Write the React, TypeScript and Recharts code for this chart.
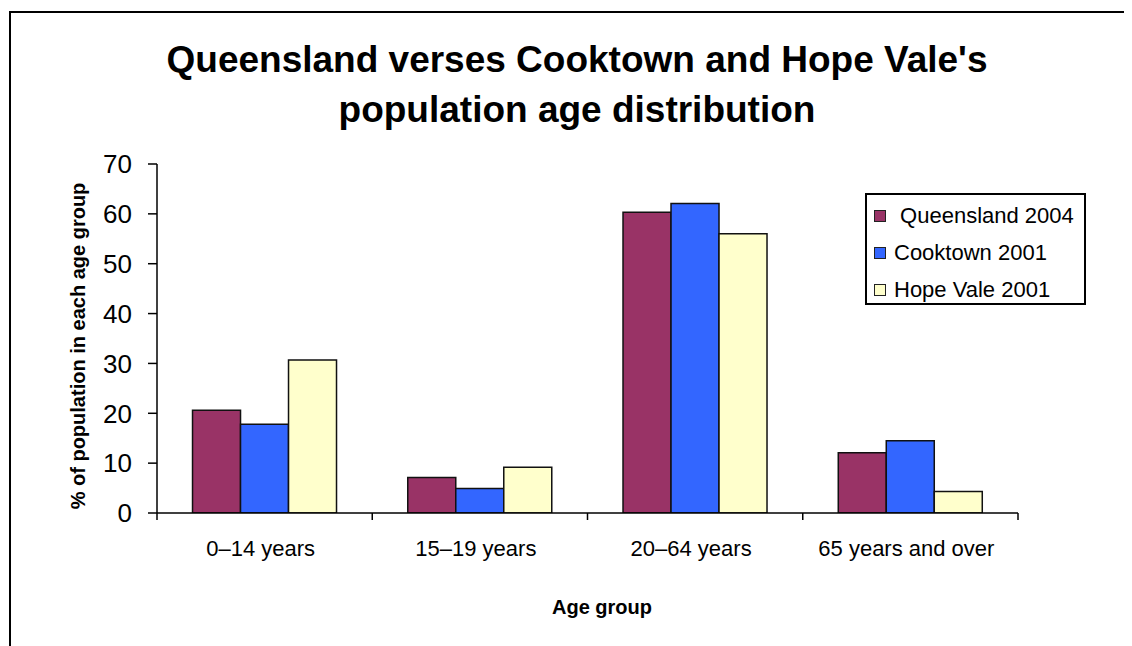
import type { ReactElement } from 'react';
import { Bar, BarChart, Legend, XAxis, YAxis } from 'recharts';

const CATEGORIES = ['0–14 years', '15–19 years', '20–64 years', '65 years and over'];
const QUEENSLAND_2004 = [20.6, 7.1, 60.3, 12.1];
const COOKTOWN_2001 = [17.8, 4.9, 62.1, 14.5];
const HOPE_VALE_2001 = [30.7, 9.2, 56.0, 4.3];
const Y_TICKS = [0, 10, 20, 30, 40, 50, 60, 70];

const SERIES = [
  { key: 'queensland', name: ' Queensland 2004', color: '#993366' },
  { key: 'cooktown', name: 'Cooktown 2001', color: '#3366FF' },
  { key: 'hopeVale', name: 'Hope Vale 2001', color: '#FFFFCC' },
];

const data = CATEGORIES.map((group, i) => ({
  group,
  queensland: QUEENSLAND_2004[i],
  cooktown: COOKTOWN_2001[i],
  hopeVale: HOPE_VALE_2001[i],
}));

const FONT = '"Liberation Sans", Arial, sans-serif';
const W = 1124;
const H = 638;
const X_TICK_LEN = 7;
const X_TICK_MARGIN = 27;

// Category labels sit in the middle of each band; the tick marks go on the
// band edges, like a spreadsheet chart.
function CategoryTick(props: any): ReactElement {
  const { x, y, payload, index, visibleTicksCount, width } = props;
  const half = payload?.offset || width / visibleTicksCount / 2;
  const axisY = y - X_TICK_MARGIN;
  const isLast = index === visibleTicksCount - 1;
  return (
    <g>
      <line x1={x - half} x2={x - half} y1={axisY} y2={axisY + X_TICK_LEN} stroke="#000" strokeWidth={1.5} />
      {isLast && (
        <line x1={x + half} x2={x + half} y1={axisY} y2={axisY + X_TICK_LEN} stroke="#000" strokeWidth={1.5} />
      )}
      <text x={x - 4} y={y} dy="0.71em" textAnchor="middle" fontSize={22} fill="#000" fontFamily={FONT}>
        {payload.value}
      </text>
    </g>
  );
}

function LegendBox(props: any): ReactElement {
  const items = props.payload ?? [];
  return (
    <div
      style={{
        border: '2px solid #000',
        background: '#fff',
        width: 217,
        height: 108,
        boxSizing: 'content-box',
        padding: 0,
        fontFamily: FONT,
        fontSize: 22,
        color: '#000',
      }}
    >
      {items.map((item: any, i: number) => (
        <div
          key={item.value}
          style={{
            display: 'flex',
            alignItems: 'center',
            height: 37,
            marginTop: i === 0 ? 2 : 0,
            paddingLeft: 7,
          }}
        >
          <span
            style={{
              width: 10,
              height: 10,
              border: '1.5px solid #222',
              background: item.color,
              marginRight: 8,
              flex: 'none',
            }}
          />
          <span style={{ whiteSpace: 'pre' }}>{item.value}</span>
        </div>
      ))}
    </div>
  );
}

export default function App(): ReactElement {
  return (
    <div style={{ position: 'relative', width: W, height: H, overflow: 'hidden', background: '#fff' }}>
      {/* outer chart frame, only its top and left edges fall inside the view */}
      <div
        style={{
          position: 'absolute',
          left: 1,
          top: 3,
          width: W + 40,
          height: H + 40,
          borderTop: '2.5px solid #000',
          borderLeft: '2.5px solid #000',
        }}
      />
      <div
        style={{
          position: 'absolute',
          left: 569,
          top: 27,
          transform: 'translateX(-50%)',
          textAlign: 'center',
          whiteSpace: 'nowrap',
          fontFamily: FONT,
          fontWeight: 'bold',
          fontSize: 37,
          lineHeight: '50px',
          color: '#000',
        }}
      >
        Queensland verses Cooktown and Hope Vale's
        <br />
        population age distribution
      </div>
      <div
        style={{
          position: 'absolute',
          left: 70,
          top: 338,
          transform: 'translate(-50%, -50%) rotate(-90deg)',
          whiteSpace: 'nowrap',
          fontFamily: FONT,
          fontWeight: 'bold',
          fontSize: 20,
          color: '#000',
        }}
      >
        % of population in each age group
      </div>
      <div
        style={{
          position: 'absolute',
          left: 594,
          top: 599,
          transform: 'translate(-50%, -50%)',
          whiteSpace: 'nowrap',
          fontFamily: FONT,
          fontWeight: 'bold',
          fontSize: 20,
          color: '#000',
        }}
      >
        Age group
      </div>
      <div style={{ position: 'absolute', left: 0, top: 0 }}>
        <BarChart
          width={W}
          height={H}
          data={data}
          margin={{ top: 156, right: 114, bottom: 0, left: 0 }}
          barCategoryGap="16.5%"
          barGap={0}
        >
          <XAxis
            dataKey="group"
            height={133}
            axisLine={{ stroke: '#000', strokeWidth: 1.5 }}
            tickLine={false}
            tickSize={0}
            tickMargin={X_TICK_MARGIN}
            interval={0}
            tick={<CategoryTick />}
          />
          <YAxis
            width={149}
            domain={[0, 70]}
            ticks={Y_TICKS}
            interval={0}
            allowDataOverflow
            axisLine={{ stroke: '#000', strokeWidth: 1.5 }}
            tickLine={{ stroke: '#000', strokeWidth: 1.5 }}
            tickSize={9}
            tickMargin={16}
            tick={{ fontSize: 26, fill: '#000', fontFamily: FONT }}
          />
          <Legend
            layout="vertical"
            align="center"
            verticalAlign="middle"
            wrapperStyle={{ left: 857, top: 185, width: 'auto', height: 'auto' }}
            content={<LegendBox />}
          />
          {SERIES.map((s) => (
            <Bar
              key={s.key}
              dataKey={s.key}
              name={s.name}
              fill={s.color}
              stroke="#111"
              strokeWidth={1.5}
              isAnimationActive={false}
            />
          ))}
        </BarChart>
      </div>
    </div>
  );
}
